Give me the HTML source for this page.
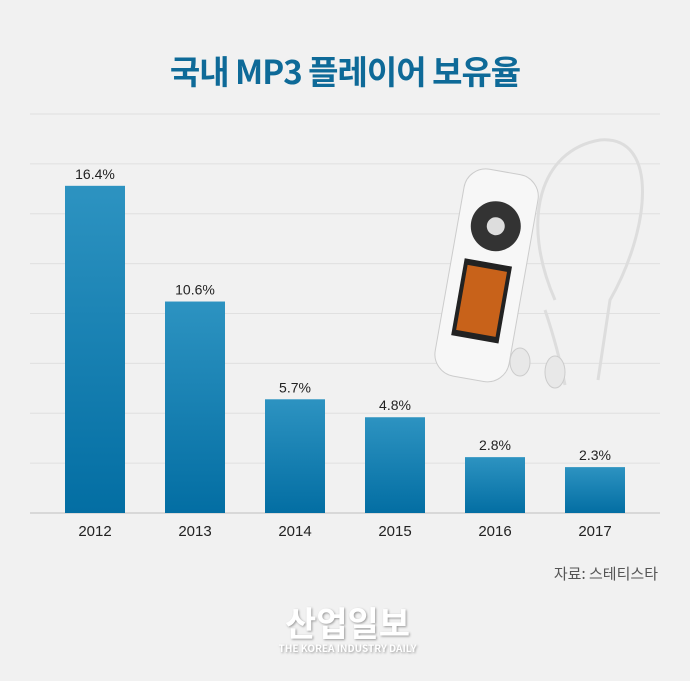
<!DOCTYPE html>
<html><head><meta charset="utf-8"><style>
html,body{margin:0;padding:0;background:#f1f1f1;}
#wrap{position:relative;width:690px;height:681px;overflow:hidden;background:#f1f1f1;font-family:"Liberation Sans","Noto Sans CJK KR",sans-serif;}
#title{position:absolute;top:46px;left:0;width:690px;text-align:center;font-size:33px;color:#0e6a98;font-weight:bold;letter-spacing:-1px;font-family:"Noto Sans CJK KR","Liberation Sans",sans-serif;}
#source{position:absolute;top:563px;right:32px;font-size:15px;color:#555;font-family:"Noto Sans CJK KR","Liberation Sans",sans-serif;}
#logo{position:absolute;top:604px;left:265px;width:165px;text-align:center;color:#fff;font-weight:bold;text-shadow:1px 1px 2px #999;font-family:"Noto Sans CJK KR",sans-serif;}
</style></head><body>
<div id="wrap">
<div id="title">국내 MP3 플레이어 보유율</div>
<svg id="chart" width="690" height="681" style="position:absolute;left:0;top:0">
<defs><linearGradient id="g" x1="0" y1="0" x2="0" y2="1"><stop offset="0" stop-color="#2d93c1"/><stop offset="1" stop-color="#036ea3"/></linearGradient></defs>
<g id="grid"></g>
<g id="device">
<path d="M555,300 C520,220 540,150 600,140 C660,135 650,230 610,300 L598,380" fill="none" stroke="#ddd" stroke-width="3"/>
<path d="M545,310 C555,340 560,360 565,385" fill="none" stroke="#ddd" stroke-width="3"/>
<g transform="rotate(10 485 270)">
<rect x="450" y="170" width="75" height="210" rx="22" fill="#f7f7f7" stroke="#ccc"/>
<circle cx="488" cy="225" r="25" fill="#333"/>
<circle cx="488" cy="225" r="9" fill="#ddd"/>
<rect x="463" y="262" width="48" height="78" fill="#222"/>
<rect x="467" y="268" width="40" height="66" fill="#c8621a"/>
</g>
<ellipse cx="520" cy="362" rx="10" ry="14" fill="#e8e8e8" stroke="#ccc"/>
<ellipse cx="555" cy="372" rx="10" ry="16" fill="#e8e8e8" stroke="#ccc"/>
</g>
<g id="bars"></g>
</svg>
<div id="source">자료: 스테티스타</div>
<div id="logo"><div style="font-size:34px;line-height:36px;">산업일보</div><div style="font-size:10px;letter-spacing:0px;">THE KOREA INDUSTRY DAILY</div></div>
</div>
<script>
const categories=["2012","2013","2014","2015","2016","2017"];
const values=[16.4,10.6,5.7,4.8,2.8,2.3];
const labels=["16.4%","10.6%","5.7%","4.8%","2.8%","2.3%"];
const gridTicks=[0,2.5,5,7.5,10,12.5,15,17.5,20];
const NS="http://www.w3.org/2000/svg";
const base=513,pxPer=19.95,left=30,right=660,step=100,bw=60,x0=65;
const y=v=>base-v*pxPer;
const xb=i=>x0+i*step;
const grid=document.getElementById('grid');
gridTicks.forEach(t=>{
 const l=document.createElementNS(NS,'line');
 
 
 l.setAttribute('x1',left);l.setAttribute('x2',right);
 l.setAttribute('y1',y(t));l.setAttribute('y2',y(t));
 l.setAttribute('stroke',t===0?'#d8d8d8':'#e0e0e0');l.setAttribute('stroke-width',t===0?2:1);
 grid.appendChild(l);
});
const bars=document.getElementById('bars');
values.forEach((v,i)=>{
 const r=document.createElementNS(NS,'rect');
 
 
 r.setAttribute('x',xb(i));r.setAttribute('y',y(v));r.setAttribute('width',bw);r.setAttribute('height',base-y(v));
 r.setAttribute('fill','url(#g)');
 bars.appendChild(r);
 const t=document.createElementNS(NS,'text');
 
 
 t.setAttribute('x',xb(i)+bw/2);t.setAttribute('y',y(v)-7);
 t.setAttribute('text-anchor','middle');t.setAttribute('font-size','14');t.setAttribute('fill','#222');
 t.setAttribute('font-family','Liberation Sans, sans-serif');
 t.textContent=labels[i];bars.appendChild(t);
 const c=document.createElementNS(NS,'text');
 
 
 c.setAttribute('x',xb(i)+bw/2);c.setAttribute('y',536);
 c.setAttribute('text-anchor','middle');c.setAttribute('font-size','15');c.setAttribute('fill','#222');
 c.setAttribute('font-family','Liberation Sans, sans-serif');
 c.textContent=categories[i];bars.appendChild(c);
});
</script>
</body></html>
